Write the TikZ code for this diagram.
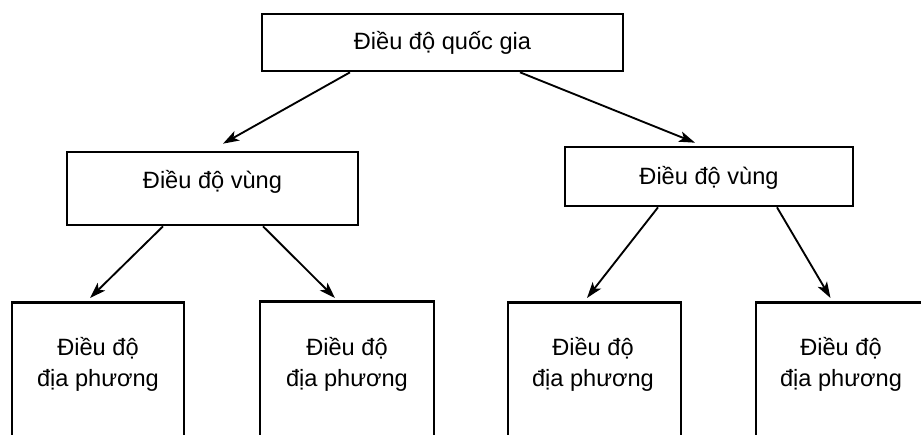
\documentclass[tikz,border=0pt]{standalone}
\usepackage{fontspec}
\setmainfont{Liberation Sans}
\usetikzlibrary{arrows.meta,calc}
\begin{document}
\begin{tikzpicture}[x=0.75pt,y=-0.75pt,
  box/.style={draw=black,line width=2pt,inner sep=0pt},
  lbl/.style={inner sep=0pt,align=center,font=\fontsize{17.7pt}{23.25pt}\selectfont},
  conn/.style={line width=1.4pt,-{Stealth[length=12pt,width=8pt,inset=3pt]}}]
\useasboundingbox (0,0) rectangle (921,435);
\clip (0,0) rectangle (921,435);
% boxes
\node[box,minimum width=270.75pt,minimum height=42.75pt] (top) at (442.5,42.5) {};
\node[box,minimum width=218.25pt,minimum height=54.75pt] (m1) at (212.5,188.5) {};
\node[box,minimum width=216pt,minimum height=44.25pt] (m2) at (709,176.5) {};
\node[box,minimum width=129pt,minimum height=150pt,anchor=north] (l1) at (98,301) {};
\node[box,minimum width=130.5pt,minimum height=150pt,anchor=north] (l2) at (347,300) {};
\node[box,minimum width=129.75pt,minimum height=150pt,anchor=north] (l3) at (594.5,301) {};
\node[box,minimum width=129.75pt,minimum height=150pt,anchor=north] (l4) at (842.5,301) {};
% texts
\node[lbl] (ttop) at (top.center) {Điều độ quốc gia};
\node[lbl] (tm1) at ($(m1.center)+(0,-7)$) {Điều độ vùng};
\node[lbl] (tm2) at ($(m2.center)+(0,1)$) {Điều độ vùng};
\node[lbl] (tl1) at (98,364) {Điều độ\\địa phương};
\node[lbl] (tl2) at (347,364) {Điều độ\\địa phương};
\node[lbl] (tl3) at (593,364) {Điều độ\\địa phương};
\node[lbl] (tl4) at (841,364) {Điều độ\\địa phương};
% connectors
\draw[conn] ($(top.south)+(-92.5,0)$) -- ($(m1.north)+(10.5,-7)$);
\draw[conn] ($(top.south)+(77.5,0)$) -- ($(m2.north)+(-14,-3)$);
\draw[conn] ($(m1.south)+(-49.5,0)$) -- ($(l1.north)+(-8,-3)$);
\draw[conn] ($(m1.south)+(50.5,0)$) -- ($(l2.north)+(-12,-2)$);
\draw[conn] ($(m2.south)+(-51,0)$) -- ($(l3.north)+(-7.5,-3)$);
\draw[conn] ($(m2.south)+(68,0)$) -- ($(l4.north)+(-12,-3)$);
\end{tikzpicture}
\end{document}
